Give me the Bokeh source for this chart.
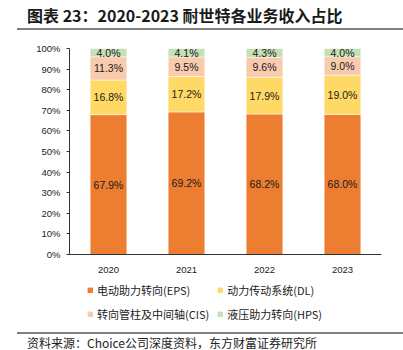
from bokeh.plotting import figure
from bokeh.models import (ColumnDataSource, FactorRange, Range1d, FixedTicker,
                          PrintfTickFormatter, LabelSet, Legend, LegendItem, Div)
from bokeh.core.properties import value
from bokeh.layouts import column
from bokeh.embed import file_html
from bokeh.resources import INLINE

years = ["2020", "2021", "2022", "2023"]
series_names = ["电动助力转向(EPS)", "动力传动系统(DL)", "转向管柱及中间轴(CIS)", "液压助力转向(HPS)"]
eps = [67.9, 69.2, 68.2, 68.0]
dl = [16.8, 17.2, 17.9, 19.0]
cis = [11.3, 9.5, 9.6, 9.0]
hps = [4.0, 4.1, 4.3, 4.0]
y_ticks = [0, 10, 20, 30, 40, 50, 60, 70, 80, 90, 100]
colors = ["#ED7D31", "#FFD966", "#F8CBAD", "#C5E0B4"]
title_text = "图表 23：2020-2023 耐世特各业务收入占比"
source_text = "资料来源：Choice公司深度资料，东方财富证券研究所"

keys = ["eps", "dl", "cis", "hps"]
data = dict(year=years, eps=eps, dl=dl, cis=cis, hps=hps)
src = ColumnDataSource(data)

p = figure(x_range=FactorRange(*years, range_padding=0), y_range=Range1d(0, 100),
           width=403, height=249, output_backend="svg", toolbar_location=None,
           min_border_left=69, min_border_right=22, min_border_top=15, min_border_bottom=28)
p.outline_line_color = None
p.xgrid.grid_line_color = None
p.ygrid.grid_line_color = None
p.background_fill_color = "white"
p.border_fill_color = "white"

rs = p.vbar_stack(keys, x="year", width=0.47, source=src, color=colors,
                  line_color="white", line_width=0.5)

# segment labels
bottoms = [0.0] * len(years)
for k in keys:
    vals = data[k]
    mids = [b + v / 2 for b, v in zip(bottoms, vals)]
    lsrc = ColumnDataSource(dict(year=years, y=mids, t=["%.1f%%" % v for v in vals]))
    p.add_layout(LabelSet(x="year", y="y", text="t", source=lsrc, text_align="center",
                          text_baseline="middle", text_font_size=value("10.5px"),
                          text_font=value("Liberation Sans"), text_color="#1a1a1a"))
    bottoms = [b + v for b, v in zip(bottoms, vals)]

p.yaxis.ticker = FixedTicker(ticks=y_ticks)
p.yaxis.formatter = PrintfTickFormatter(format="%d%%")
p.yaxis.major_tick_out = 3
p.yaxis.major_tick_in = 0
p.yaxis.minor_tick_line_color = None
p.yaxis.major_label_standoff = 6
for ax in (p.xaxis, p.yaxis):
    ax.axis_line_color = "#333333"
    ax.major_tick_line_color = "#333333"
    ax.major_label_text_font = "Liberation Sans"
    ax.major_label_text_font_size = "9.5px"
    ax.major_label_text_color = "#222222"
p.xaxis.major_tick_line_color = None
p.xaxis.major_label_standoff = 6

# legend panel as its own small figure
lg = figure(x_range=Range1d(0, 1), y_range=Range1d(0, 1), width=403, height=50,
            output_backend="svg", toolbar_location=None, x_axis_type=None, y_axis_type=None,
            min_border=0)
lg.outline_line_color = None
lg.xgrid.grid_line_color = None
lg.ygrid.grid_line_color = None
lrs = [lg.vbar(x=[-5], top=[0], width=0.1, color=c) for c in colors]
order = [0, 2, 1, 3]  # column-major fill -> rows: EPS, DL / CIS, HPS
legend = Legend(items=[LegendItem(label=series_names[i], renderers=[lrs[i]]) for i in order],
                ncols=2, location=(18, 10), padding=0, spacing=8, margin=0,
                glyph_width=6, glyph_height=6, label_height=12, label_standoff=4,
                label_text_font="Noto Sans CJK SC", label_text_font_size="11px",
                label_text_color="#222222", border_line_color=None,
                background_fill_alpha=0)
lg.add_layout(legend, "center")

title_div = Div(text=('<div style="margin-left:17px;width:386px;height:30px;'
                      'border-bottom:2px solid #7f7f7f;box-sizing:border-box;">'
                      '<span style="display:inline-block;margin-left:10px;margin-top:4px;'
                      'font-family:\'Noto Sans CJK SC\';font-weight:bold;font-size:16px;'
                      'color:#1a1a1a;">' + title_text + '</span></div>'),
                width=403, height=33, margin=0)
source_div = Div(text=('<div style="margin-left:17px;width:386px;height:18px;'
                       'border-top:2px solid #7f7f7f;box-sizing:border-box;">'
                       '<span style="display:inline-block;margin-left:10px;margin-top:1px;'
                       'font-family:\'Noto Sans CJK SC\';font-size:12px;color:#222222;'
                       'line-height:15px;">' + source_text + '</span></div>'),
                 width=403, height=18, margin=0)

layout = column(title_div, p, lg, source_div, spacing=0)
open("out.html", "w").write(file_html(layout, INLINE))
